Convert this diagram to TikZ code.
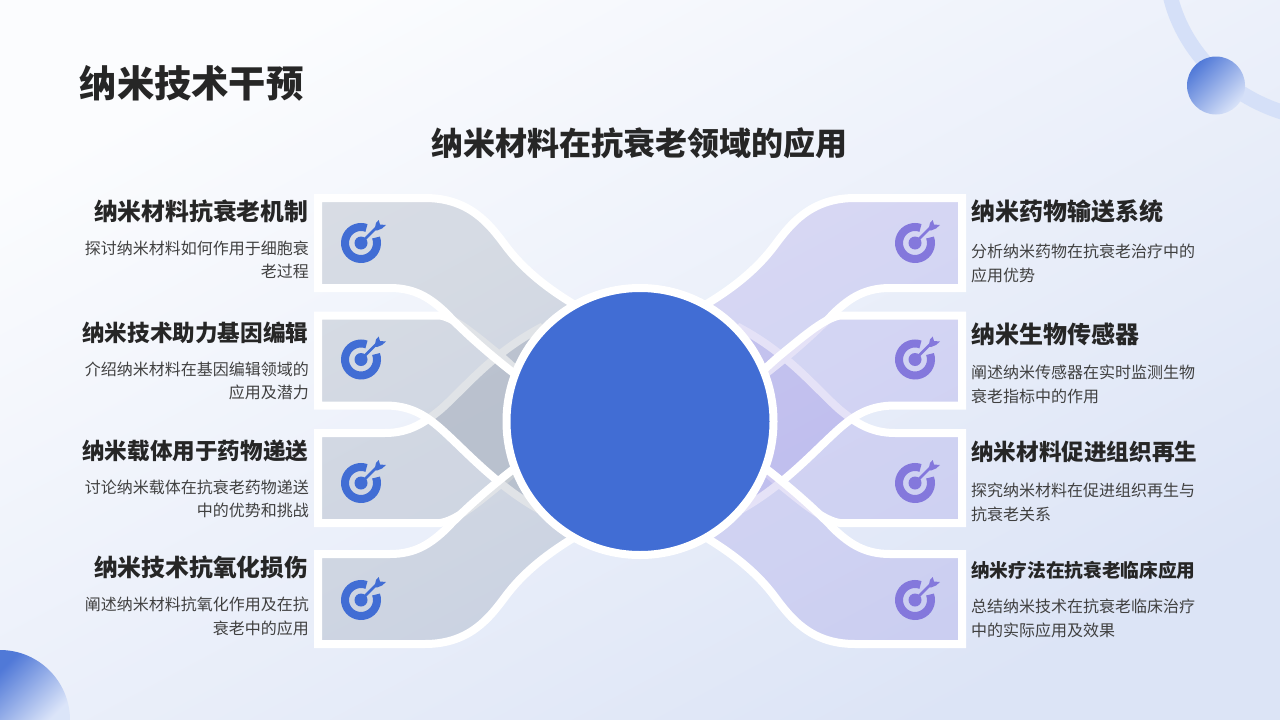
\documentclass[tikz,border=0pt]{standalone}
\usepackage{fontspec}
\setmainfont{Noto Sans CJK SC}
\definecolor{bgA}{HTML}{FBFCFE}
\definecolor{bgB}{HTML}{DCE4F6}
\definecolor{arcblue}{HTML}{D5E0F8}
\definecolor{hub}{HTML}{416DD4}
\definecolor{slate}{HTML}{44546A}
\definecolor{violet}{HTML}{7F72DB}
\definecolor{iconb}{HTML}{416DD4}
\definecolor{iconv}{HTML}{8478DC}
\definecolor{headc}{HTML}{262626}
\definecolor{bodyc}{HTML}{404040}
\def\shA{(318,198) -- (425,198) .. controls (470,198) and (490,225) .. (505,245) .. controls (522,268) and (545,287) .. (575,305) -- (640,421) -- (520,378) .. controls (490,355) and (465,333) .. (445,312) .. controls (430,298) and (415,288) .. (390,288) -- (318,288) -- cycle}
\def\shB{(318,315.5) -- (440,315.5) .. controls (455,318) and (475,335) .. (497,353) .. controls (507,361) and (516,370) .. (525,378) -- (640,421) -- (540,510) .. controls (495,485) and (465,450) .. (440,428) .. controls (425,415) and (410,405.5) .. (385,405.5) -- (318,405.5) -- cycle}
\def\shC{(318,433) -- (385,433) .. controls (410,433) and (425,422) .. (440,410) .. controls (465,388) and (490,355) .. (540,328) -- (640,421) -- (525,462) .. controls (516,470) and (507,479) .. (497,487) .. controls (475,505) and (455,521) .. (440,523) -- (318,523) -- cycle}
\def\shD{(318,644) -- (425,644) .. controls (470,644) and (490,617) .. (505,597) .. controls (522,574) and (545,555) .. (575,537) -- (640,421) -- (520,464) .. controls (490,487) and (465,509) .. (445,530) .. controls (430,544) and (415,554) .. (390,554) -- (318,554) -- cycle}
\tikzset{
  x=1pt,y=-1pt,
  bandslate/.style={draw=white,line width=8pt,line join=miter,fill=slate,fill opacity=0.16,draw opacity=1},
  bandviolet/.style={draw=white,line width=8pt,line join=miter,fill=violet,fill opacity=0.2,draw opacity=1},
  headtext/.style={inner sep=0pt,text=headc,font=\fontsize{#1}{#1}\selectfont\bfseries},
  lefthead/.style={headtext=#1,anchor=east},
  righthead/.style={headtext=#1,anchor=west},
  bodytext/.style={inner sep=0pt,text=bodyc,font=\fontsize{16}{23.5}\selectfont},
  leftbody/.style={bodytext,anchor=east,align=right},
  rightbody/.style={bodytext,anchor=west,align=left},
  pics/target/.style={code={
    \draw[#1,line width=8pt] (-20:16) arc[start angle=-20,end angle=290,radius=16];
    \fill[#1] (0,0) circle[radius=6.5];
    \draw[#1,line width=2.6pt] (0,0) -- (16,-16);
    \fill[#1] (13.5,-13) -- (15,-20) -- (17.7,-23) -- (19,-18.5) -- (25,-18) -- (21,-14.5) -- (16,-12.5) -- cycle;
  }}
}
\begin{document}
\begin{tikzpicture}
\useasboundingbox (0,0) rectangle (1280,720);
\clip (0,0) rectangle (1280,720);
\shade[left color=bgA,right color=bgB,shading angle=28] (0,0) rectangle (1280,720);
% corner decoration
\draw[arcblue,line width=15pt] (1170,-5) .. controls (1182,48) and (1225,95) .. (1285,113);
\shade[left color=hub!92!white,right color=arcblue!90!white,shading angle=45] (1216,85.5) circle[radius=29];
\begin{scope}
\clip (0,720) circle[radius=70];
\shade[left color=hub!92!white,right color=arcblue!85!white,shading angle=45] (0,650) rectangle (70,720);
\end{scope}
% left bands
\path[bandslate] \shC;
\path[bandslate] \shB;
\path[bandslate] \shA;
\path[bandslate] \shD;
% right bands
\begin{scope}[xshift=1280pt,xscale=-1]
\path[bandviolet] \shC;
\path[bandviolet] \shA;
\path[bandviolet] \shB;
\path[bandviolet] \shD;
\end{scope}
% hub
\node[circle,draw=white,line width=8pt,fill=hub,minimum size=267pt,inner sep=0pt] (hubnode) at (640,421.5) {};
% icons
\pic at (361,243) {target={iconb}};
\pic at (361,359.5) {target={iconb}};
\pic at (361,483) {target={iconb}};
\pic at (361,600) {target={iconb}};
\pic at (915,243) {target={iconv}};
\pic at (915,359.5) {target={iconv}};
\pic at (915,483) {target={iconv}};
\pic at (915,600) {target={iconv}};
% titles
\node[headtext=37.3,anchor=west] (title) at (79.5,83) {纳米技术干预};
\node[headtext=32] (subtitle) at (639,143) {纳米材料在抗衰老领域的应用};
% left texts
\node[lefthead=23.8] (l1) at (308.5,211) {纳米材料抗衰老机制};
\node[leftbody] (l1b) at (309,259.8) {探讨纳米材料如何作用于细胞衰\\老过程};
\node[lefthead=22.6] (l2) at (308.5,333) {纳米技术助力基因编辑};
\node[leftbody] (l2b) at (309,381) {介绍纳米材料在基因编辑领域的\\应用及潜力};
\node[lefthead=22.6] (l3) at (308.5,451) {纳米载体用于药物递送};
\node[leftbody] (l3b) at (309,499) {讨论纳米载体在抗衰老药物递送\\中的优势和挑战};
\node[lefthead=23.8] (l4) at (308.5,567) {纳米技术抗氧化损伤};
\node[leftbody] (l4b) at (309,616.2) {阐述纳米材料抗氧化作用及在抗\\衰老中的应用};
% right texts
\node[righthead=24] (r1) at (971,211) {纳米药物输送系统};
\node[rightbody] (r1b) at (971,263.5) {分析纳米药物在抗衰老治疗中的\\应用优势};
\node[righthead=24] (r2) at (971,334) {纳米生物传感器};
\node[rightbody] (r2b) at (971,384.5) {阐述纳米传感器在实时监测生物\\衰老指标中的作用};
\node[righthead=22.6] (r3) at (971,452) {纳米材料促进组织再生};
\node[rightbody] (r3b) at (971,502.5) {探究纳米材料在促进组织再生与\\抗衰老关系};
\node[righthead=18.7] (r4) at (971,570) {纳米疗法在抗衰老临床应用};
\node[rightbody] (r4b) at (971,618.5) {总结纳米技术在抗衰老临床治疗\\中的实际应用及效果};
\end{tikzpicture}
\end{document}
